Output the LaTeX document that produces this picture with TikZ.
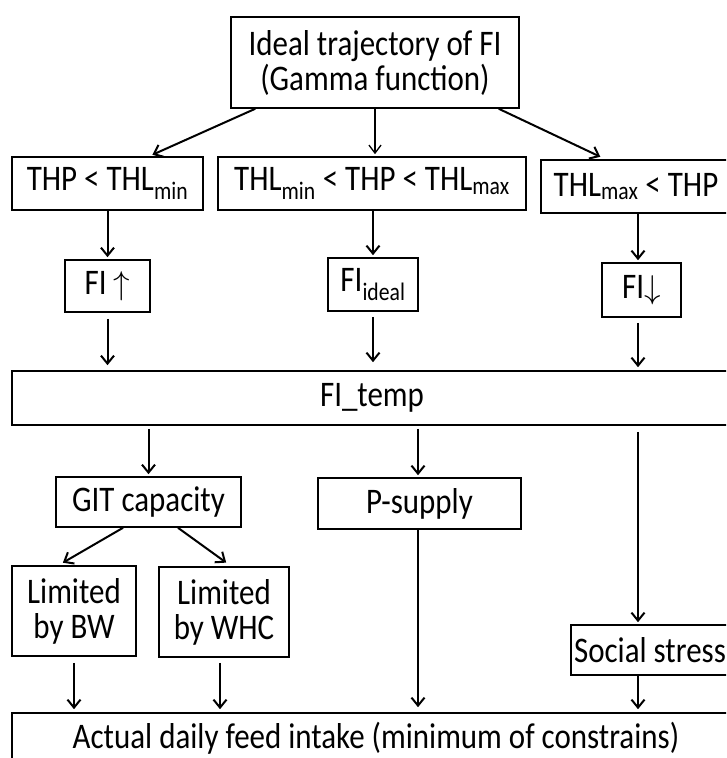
\documentclass[tikz,border=0pt]{standalone}
\usepackage{graphicx}
\usepackage{fontspec}
\setmainfont{Carlito}[FakeStretch=0.86]
\usetikzlibrary{arrows.meta,calc}
\newcommand{\uparr}{\scalebox{3.3}{\fontsize{10}{12}\selectfont$\uparrow$}}
\newcommand{\dnarr}{\scalebox{3.3}{\fontsize{10}{12}\selectfont$\downarrow$}}
\begin{document}
\begin{tikzpicture}[x=1pt,y=-1pt,
  box/.style={draw,line width=1.6pt,inner sep=0pt,align=center,font=\fontsize{36}{35}\selectfont},
  arr/.style={line width=2pt,-{Straight Barb[length=8pt,width=13pt,line width=2pt]}},
  thinarr/.style={line width=1.3pt,-{Straight Barb[length=8pt,width=12pt,line width=1.3pt]}}]
\useasboundingbox (0,0) rectangle (726,758);
\clip (0,0) rectangle (726,758);
\coordinate (colR) at (638,0);
\node[box,minimum width=288,minimum height=91] (top) at (375,62.5) {Ideal trajectory of FI\\(Gamma function)};
\node[box,minimum width=191,minimum height=53] (A) at (107.5,183.5) {THP < THL\textsubscript{min}};
\node[box,minimum width=308,minimum height=53] (B) at (372,183.5) {THL\textsubscript{min} < THP < THL\textsubscript{max}};
\node[box,minimum width=190,minimum height=53] (C) at (636,186.5) {THL\textsubscript{max} < THP};
\node[box,minimum width=85,minimum height=52] (fiup) at (107.5,286) {FI \uparr};
\node[box,minimum width=90,minimum height=53] (fiid) at (373,284.5) {FI\textsubscript{ideal}};
\node[box,minimum width=79,minimum height=54] (fidn) at (641.5,290) {FI\dnarr};
\node[box,minimum width=720,minimum height=54] (temp) at (372,398) {FI\_temp};
\node[box,minimum width=185,minimum height=50] (git) at (148.5,502) {GIT capacity};
\node[box,minimum width=203,minimum height=51] (ps) at (419.5,503.5) {P-supply};
\node[box,minimum width=124,minimum height=90] (bw) at (74,611) {Limited\\by BW};
\node[box,minimum width=130,minimum height=90] (whc) at (224,612) {Limited\\by WHC};
\node[box,minimum width=158,minimum height=50] (soc) at (650,650) {Social stress};
\node[box,minimum width=728,minimum height=50] (act) at (376,738) {Actual daily feed intake (minimum of constrains)};
% top fan-out
\draw[arr,shorten >=1pt] ($(top.south west)+(25,0)$) -- ($(A.north)+(44,-1)$);
\draw[thinarr,shorten >=2pt] (top.south) -- (top.south |- B.north);
\draw[arr,shorten >=1pt] ($(top.south east)+(-21,0)$) -- ($(C.north west)+(61,-2)$);
% to FI boxes
\draw[arr,shorten >=2pt] (A.south) -- (fiup.north);
\draw[arr,shorten >=2pt] (fiid.north |- B.south) -- (fiid.north);
\draw[arr,shorten >=2pt] (colR |- C.south) -- (colR |- fidn.north);
% to FI_temp
\draw[arr,shorten <=6pt,shorten >=5pt] (fiup.south) -- (fiup.south |- temp.north);
\draw[arr,shorten <=5pt,shorten >=8pt] (fiid.south) -- (fiid.south |- temp.north);
\draw[arr,shorten <=5pt,shorten >=3pt] (colR |- fidn.south) -- (colR |- temp.north);
% from FI_temp
\draw[arr,shorten <=3pt,shorten >=2pt] (git.north |- temp.south) -- (git.north);
\draw[arr,shorten <=3pt,shorten >=2pt] ([xshift=-1.5pt]ps.north |- temp.south) -- ([xshift=-1.5pt]ps.north);
\draw[arr,shorten <=6pt,shorten >=2pt] (colR |- temp.south) -- (colR |- soc.north);
% GIT split
\draw[arr,shorten >=1pt] ($(git.south)+(-25.5,0)$) -- ($(bw.north)+(-12,-2)$);
\draw[arr,shorten >=1pt] ($(git.south)+(29.5,0)$) -- ($(whc.north)+(3,-3)$);
% to actual
\draw[arr,shorten <=6pt,shorten >=3pt] (bw.south) -- (bw.south |- act.north);
\draw[arr,shorten <=5pt,shorten >=3pt] ([xshift=-4pt]whc.south) -- ([xshift=-4pt]whc.south |- act.north);
\draw[arr,shorten >=5pt] ([xshift=-1.5pt]ps.south) -- ([xshift=-1.5pt]ps.south |- act.north);
\draw[arr,shorten >=3pt] (colR |- soc.south) -- (colR |- act.north);
\end{tikzpicture}
\end{document}
